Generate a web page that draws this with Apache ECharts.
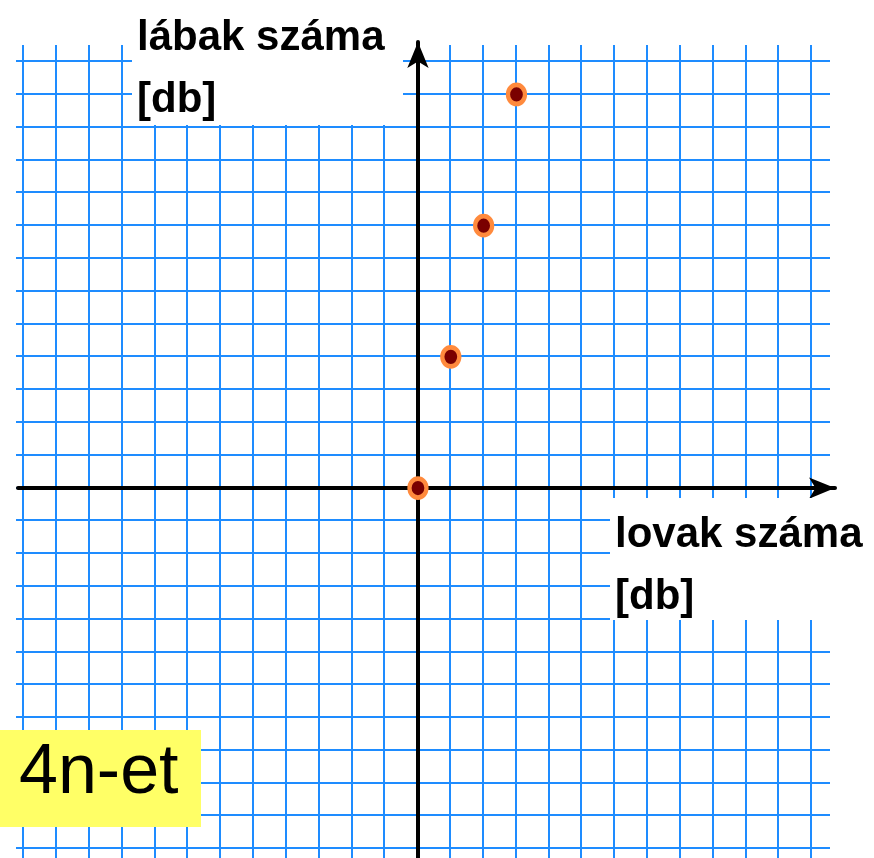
<!DOCTYPE html>
<html>
<head>
<meta charset="utf-8">
<script src="https://cdn.jsdelivr.net/npm/echarts@6/dist/echarts.min.js"></script>
<style>
  html, body { margin: 0; padding: 0; background: #fff; }
  #main { width: 874px; height: 858px; }
</style>
</head>
<body>
<div id="main"></div>
<script>
// lovak száma / lábak száma
const horses = [0, 1, 2, 3];
const legs = [0, 4, 8, 12];

const xRange = [-12, 12];
const yRange = [-11, 13];

const xName = 'lovak száma\n[db]';
const yName = 'lábak száma\n[db]';
const ruleText = '4n-et';

const gridBlue = '#1e8cff';
const hidden = { show: false };

let chart = null;

function initChart(dom) {
  chart = echarts.init(dom, null, { width: 874, height: 858 });

  let points = horses.map(function (h, i) {
    return [h, legs[i]];
  });

  let option = {
    backgroundColor: '#ffffff',
    animation: false,
    grid: [
      // horizontal lines (a bit wider than the cells)
      { left: 16, right: 44, top: 61, bottom: 10, outerBoundsMode: 'none' },
      // vertical lines (a bit taller than the cells)
      { left: 23, right: 63, top: 45, bottom: 0, outerBoundsMode: 'none' },
      // axes + points
      { left: 18, right: 39, top: 42, bottom: 0, outerBoundsMode: 'none' }
    ],
    xAxis: [
      { gridIndex: 0, type: 'value', min: 0, max: 1, axisLine: hidden, axisTick: hidden, axisLabel: hidden, splitLine: hidden },
      {
        gridIndex: 1, type: 'value', min: xRange[0], max: xRange[1], interval: 1,
        axisLine: hidden, axisTick: hidden, axisLabel: hidden,
        splitLine: { show: true, lineStyle: { color: gridBlue, width: 2 } }
      },
      {
        gridIndex: 2, type: 'value', min: -12.18, max: 12.7,
        axisLine: {
          show: true, onZero: true,
          symbol: ['none', 'arrow'], symbolSize: [16, 26],
          lineStyle: { color: '#000', width: 4 }
        },
        axisTick: hidden, axisLabel: hidden, splitLine: hidden
      }
    ],
    yAxis: [
      {
        gridIndex: 0, type: 'value', min: yRange[0], max: yRange[1], interval: 1,
        axisLine: hidden, axisTick: hidden, axisLabel: hidden,
        splitLine: { show: true, lineStyle: { color: gridBlue, width: 2 } }
      },
      { gridIndex: 1, type: 'value', min: 0, max: 1, axisLine: hidden, axisTick: hidden, axisLabel: hidden, splitLine: hidden },
      {
        gridIndex: 2, type: 'value', min: -11.28, max: 13.6,
        axisLine: {
          show: true, onZero: true,
          symbol: ['none', 'arrow'], symbolSize: [16, 26],
          lineStyle: { color: '#000', width: 4 }
        },
        axisTick: hidden, axisLabel: hidden, splitLine: hidden
      }
    ],
    series: [{
      type: 'scatter',
      xAxisIndex: 2,
      yAxisIndex: 2,
      data: points,
      symbol: 'circle',
      symbolSize: [17, 19],
      z: 10,
      itemStyle: {
        color: '#7a0000',
        borderColor: '#ff8a3d',
        borderWidth: 4.5,
        opacity: 1
      }
    }],
    graphic: [
      // y axis title box
      { type: 'rect', z: 100, shape: { x: 132, y: 0, width: 271, height: 125 }, style: { fill: '#fff' } },
      {
        type: 'text', z: 101, left: 137, top: 7,
        style: { text: yName, font: 'bold 42px "Liberation Sans"', fill: '#000', lineHeight: 62 }
      },
      // x axis title box
      { type: 'rect', z: 100, shape: { x: 610, y: 498, width: 264, height: 122 }, style: { fill: '#fff' } },
      {
        type: 'text', z: 101, left: 615, top: 504,
        style: { text: xName, font: 'bold 42px "Liberation Sans"', fill: '#000', lineHeight: 62 }
      },
      // rule box
      { type: 'rect', z: 100, shape: { x: 0, y: 730, width: 201, height: 97 }, style: { fill: '#ffff66' } },
      {
        type: 'text', z: 101, left: 19, top: 739,
        style: { text: ruleText, font: '70px "Liberation Sans"', fill: '#000' }
      }
    ]
  };

  chart.setOption(option);
  return chart;
}

initChart(document.getElementById('main'));
</script>
</body>
</html>
